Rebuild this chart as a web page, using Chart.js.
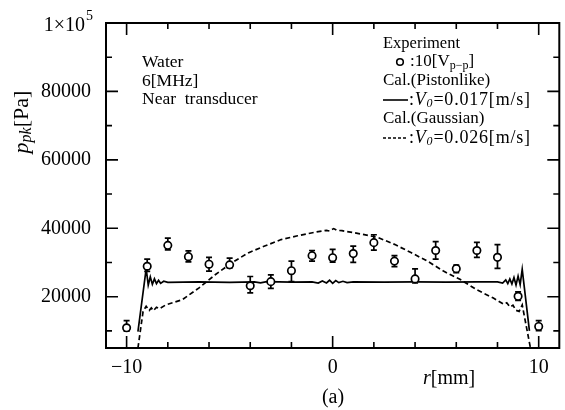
<!DOCTYPE html>
<html>
<head>
<meta charset="utf-8">
<script src="https://cdn.jsdelivr.net/npm/chart.js@4.4.0/dist/chart.umd.min.js"></script>
<style>
  html, body { margin: 0; padding: 0; background: #fff; }
  #wrap { width: 565px; height: 410px; }
</style>
</head>
<body>
<div id="wrap"><canvas id="chart" width="565" height="410"></canvas></div>
<script>
// measured points (r in mm, p in Pa) with error bars
const expR = [-10, -9, -8, -7, -6, -5, -4, -3, -2, -1, 0, 1, 2, 3, 4, 5, 6, 7, 8, 9, 10];
const expP = [10900, 28900, 35000, 31700, 29500, 29300, 23200, 24400, 27600, 32000, 31400,
              32600, 35800, 30400, 25200, 33500, 28200, 33500, 31500, 20100, 11300];
const errUp = [2100, 2100, 2100, 1700, 2000, 2000, 2700, 2000, 2800, 1500, 2400,
               2200, 2300, 1600, 2900, 2600, 1000, 2400, 3700, 1300, 1700];
const errDown = [1000, 1500, 1300, 1500, 2000, 900, 2100, 2000, 3200, 1600, 1300,
                 2600, 2200, 1600, 1200, 2500, 1200, 2000, 3200, 1200, 1200];

// Cal.(Pistonlike)
const pistonR = [-9.45, -9.05, -8.95, -8.85, -8.75, -8.65, -8.55, -8.45, -8.35, -8.2,
                 -8.0, -6.5, -5.0, -3.8, -3.5, -3.2, -2.0, -1.0, -0.7, -0.5,
                 -0.3, -0.15, 0.0, 0.15, 0.3, 0.5, 0.7, 1.0, 2.5, 4.0,
                 5.5, 7.0, 8.0, 8.25, 8.4, 8.5, 8.6, 8.7, 8.8, 8.9,
                 9.0, 9.1, 9.2, 9.55];
const pistonP = [9800, 28200, 23400, 25800, 23600, 25200, 23800, 24800, 23900, 24500,
                 24200, 24300, 24200, 24300, 24050, 24400, 24250, 24300, 24000, 24600,
                 24000, 24800, 23900, 24700, 24100, 24500, 24100, 24300, 24250, 24300,
                 24250, 24300, 24300, 24000, 24900, 23800, 25200, 23700, 25600, 23400,
                 26000, 23500, 28000, 10000];

// Cal.(Gaussian)
const gaussR = [-9.45, -9.2, -9.05, -8.9, -8.8, -8.7, -8.55, -8.4, -8.1, -7.3,
                -6.5, -5.7, -4.9, -4.1, -3.3, -2.5, -1.7, -0.9, -0.3, -0.15,
                0.05, 0.2, 0.45, 1.4, 2.2, 3.0, 3.8, 4.6, 5.4, 6.2,
                7.0, 7.8, 8.3, 8.45, 8.6, 8.75, 8.9, 9.05, 9.2, 9.6];
const gaussP = [5000, 15700, 17200, 16000, 16700, 15900, 16900, 16500, 17600, 19100,
                22500, 26400, 29900, 32800, 34800, 36700, 37800, 38800, 39400, 39200,
                39900, 39400, 39300, 38300, 37300, 35300, 32900, 30400, 27400, 25000,
                22000, 19600, 17800, 18200, 17000, 17500, 16000, 15700, 17600, 5000];

// axes
const xMajorTicks = [-10, 0, 10];
const xTickLabels = ["\u221210", "0", "10"];
const xMinorTicks = [-8, -6, -4, -2, 2, 4, 6, 8];
const yMajorTicks = [20000, 40000, 60000, 80000];
const yTickLabels = ["20000", "40000", "60000", "80000"];
const yMinorTicks = [10000, 30000, 50000, 70000, 90000];
const yTopTick = 100000;

const SERIF = "'Liberation Serif', 'Times New Roman', serif";

function fontOf(p, size) {
  return (p.i ? "italic " : "") + (p.s || size) + "px " + SERIF;
}

// draws a run of text pieces (italic / sub / sup) one after another
function rich(ctx, x, y, parts, size, align, spacing) {
  ctx.letterSpacing = (spacing || 0) + "px";
  let w = 0;
  parts.forEach((p) => {
    ctx.font = fontOf(p, size);
    w += ctx.measureText(p.t).width;
  });
  let cx = align === "right" ? x - w : align === "center" ? x - w / 2 : x;
  parts.forEach((p) => {
    ctx.font = fontOf(p, size);
    ctx.fillText(p.t, cx, y + (p.dy || 0));
    cx += ctx.measureText(p.t).width;
  });
  ctx.letterSpacing = "0px";
}

const errorBars = {
  id: "errorBars",
  beforeDatasetsDraw(chart) {
    const { ctx, scales: { x, y } } = chart;
    ctx.save();
    ctx.strokeStyle = "#000";
    ctx.lineWidth = 1.7;
    expR.forEach((r, i) => {
      const px = x.getPixelForValue(r);
      const top = y.getPixelForValue(expP[i] + errUp[i]);
      const bot = y.getPixelForValue(expP[i] - errDown[i]);
      ctx.beginPath();
      ctx.moveTo(px, top);
      ctx.lineTo(px, bot);
      ctx.moveTo(px - 3, top);
      ctx.lineTo(px + 3, top);
      ctx.moveTo(px - 3, bot);
      ctx.lineTo(px + 3, bot);
      ctx.stroke();
    });
    ctx.restore();
  },
};

const frame = {
  id: "frame",
  afterDatasetsDraw(chart) {
    const { ctx, chartArea: a, scales: { x, y } } = chart;
    ctx.save();
    ctx.strokeStyle = "#000";
    ctx.lineWidth = 2;
    ctx.strokeRect(a.left, a.top, a.right - a.left, a.bottom - a.top);

    ctx.lineWidth = 1.6;
    ctx.beginPath();
    const xt = (v, len) => {
      const px = x.getPixelForValue(v);
      ctx.moveTo(px, a.bottom);
      ctx.lineTo(px, a.bottom - len);
      ctx.moveTo(px, a.top);
      ctx.lineTo(px, a.top + len);
    };
    const yt = (v, len) => {
      const py = y.getPixelForValue(v);
      ctx.moveTo(a.left, py);
      ctx.lineTo(a.left + len, py);
      ctx.moveTo(a.right, py);
      ctx.lineTo(a.right - len, py);
    };
    xMajorTicks.forEach((v) => xt(v, 12));
    xMinorTicks.forEach((v) => xt(v, 6));
    yMajorTicks.forEach((v) => yt(v, 12));
    yMinorTicks.forEach((v) => yt(v, 6));
    ctx.stroke();

    // tick labels
    ctx.fillStyle = "#000";
    ctx.textBaseline = "middle";
    ctx.textAlign = "left";
    yMajorTicks.forEach((v, i) => {
      rich(ctx, 91, y.getPixelForValue(v), [{ t: yTickLabels[i] }], 20, "right");
    });
    const ty = y.getPixelForValue(yTopTick);
    rich(ctx, 85, ty + 3, [{ t: "1\u00d710" }], 20, "right");
    rich(ctx, 86, ty - 7, [{ t: "5" }], 14, "left");
    xMajorTicks.forEach((v, i) => {
      rich(ctx, x.getPixelForValue(v), 368, [{ t: xTickLabels[i] }], 20, "center");
    });

    // axis titles
    rich(ctx, 423, 379, [{ t: "r", i: true }, { t: "[mm]" }], 20, "left");
    rich(ctx, 333, 398, [{ t: "(a)" }], 20, "center");
    ctx.save();
    ctx.translate(22, 122);
    ctx.rotate(-Math.PI / 2);
    rich(ctx, 0, 0, [
      { t: "p", i: true },
      { t: "pk", i: true, s: 16, dy: 5 },
      { t: "[Pa]" },
    ], 22, "center");
    ctx.restore();

    // notes
    rich(ctx, 142, 62, [{ t: "Water" }], 17.5, "left");
    rich(ctx, 142, 81, [{ t: "6[MHz]" }], 17.5, "left");
    rich(ctx, 142, 99, [{ t: "Near  transducer" }], 17.5, "left");

    // legend
    const lx = 383;
    rich(ctx, lx, 44, [{ t: "Experiment" }], 16.5, "left");
    ctx.lineWidth = 1.6;
    ctx.beginPath();
    ctx.arc(400, 62, 3.3, 0, Math.PI * 2);
    ctx.stroke();
    rich(ctx, 410, 62, [
      { t: ":10[V" },
      { t: "p\u2212p", s: 12, dy: 4 },
      { t: "]" },
    ], 17, "left");
    rich(ctx, lx, 81, [{ t: "Cal.(Pistonlike)" }], 17, "left");
    ctx.beginPath();
    ctx.moveTo(lx, 100);
    ctx.lineTo(lx + 25, 100);
    ctx.stroke();
    rich(ctx, lx + 26, 100, [
      { t: ":" },
      { t: "V", i: true },
      { t: "0", i: true, s: 12, dy: 4 },
      { t: "=0.017[m/s]" },
    ], 18, "left", 0.8);
    rich(ctx, lx, 119, [{ t: "Cal.(Gaussian)" }], 17, "left");
    ctx.setLineDash([3, 2]);
    ctx.beginPath();
    ctx.moveTo(lx, 138);
    ctx.lineTo(lx + 25, 138);
    ctx.stroke();
    ctx.setLineDash([]);
    rich(ctx, lx + 26, 138, [
      { t: ":" },
      { t: "V", i: true },
      { t: "0", i: true, s: 12, dy: 4 },
      { t: "=0.026[m/s]" },
    ], 18, "left", 0.8);
    ctx.restore();
  },
};

const toPts = (xs, ys) => xs.map((v, i) => ({ x: v, y: ys[i] }));

new Chart(document.getElementById("chart"), {
  type: "scatter",
  data: {
    datasets: [
      {
        label: "Experiment",
        data: toPts(expR, expP),
        pointStyle: "circle",
        pointRadius: 3.7,
        pointBackgroundColor: "#fff",
        pointBorderColor: "#000",
        pointBorderWidth: 1.7,
        showLine: false,
        order: 0,
      },
      {
        label: "Cal.(Pistonlike)",
        data: toPts(pistonR, pistonP),
        showLine: true,
        borderColor: "#000",
        borderWidth: 1.7,
        pointRadius: 0,
        tension: 0,
        order: 1,
      },
      {
        label: "Cal.(Gaussian)",
        data: toPts(gaussR, gaussP),
        showLine: true,
        borderColor: "#000",
        borderWidth: 1.7,
        borderDash: [5, 3],
        pointRadius: 0,
        tension: 0,
        order: 2,
      },
    ],
  },
  options: {
    responsive: false,
    animation: false,
    devicePixelRatio: 1,
    layout: { padding: { left: 106, right: 2, top: 23, bottom: 62 } },
    plugins: { legend: { display: false }, tooltip: { enabled: false } },
    scales: {
      x: {
        type: "linear",
        min: -11,
        max: 11,
        grid: { display: false, drawTicks: false },
        border: { display: false },
        ticks: { display: false },
      },
      y: {
        type: "linear",
        min: 5000,
        max: 100000,
        grid: { display: false, drawTicks: false },
        border: { display: false },
        ticks: { display: false },
      },
    },
  },
  plugins: [errorBars, frame],
});
</script>
</body>
</html>
